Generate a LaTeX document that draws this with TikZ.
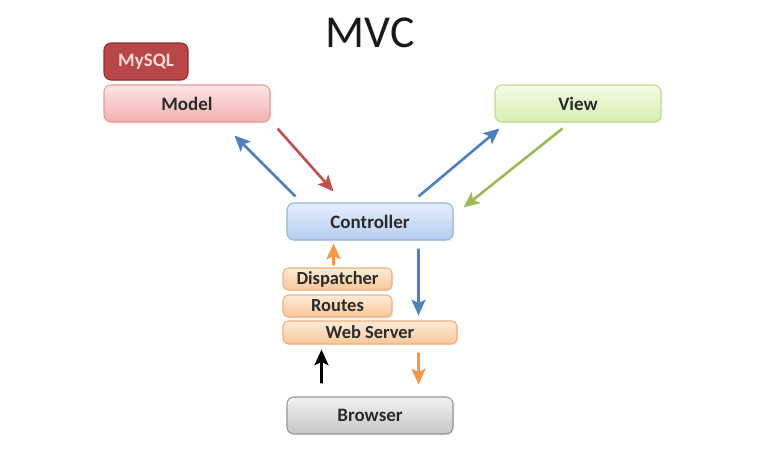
\documentclass[tikz,border=0pt]{standalone}
\usepackage{fontspec}
\setmainfont{Carlito}
\usetikzlibrary{calc,arrows.meta,shadows}
\definecolor{txtgrey}{HTML}{2B2B2B}
\definecolor{modeltop}{HTML}{FDE6E6}
\definecolor{modelbot}{HTML}{F3AFAF}
\definecolor{modelline}{HTML}{E59C9C}
\definecolor{viewtop}{HTML}{F5FBE8}
\definecolor{viewbot}{HTML}{D6EEAE}
\definecolor{viewline}{HTML}{BFD998}
\definecolor{ctrltop}{HTML}{E6EEFB}
\definecolor{ctrlbot}{HTML}{B5CDF1}
\definecolor{ctrlline}{HTML}{95B3DF}
\definecolor{srvtop}{HTML}{FDEBDA}
\definecolor{srvbot}{HTML}{F9C798}
\definecolor{srvline}{HTML}{EFB07A}
\definecolor{browtop}{HTML}{F2F2F2}
\definecolor{browbot}{HTML}{C6C6C6}
\definecolor{browline}{HTML}{959595}
\definecolor{sqlfill}{HTML}{BA4747}
\definecolor{sqlline}{HTML}{8E2F2F}
\definecolor{sqltext}{HTML}{F6DADA}
\definecolor{bluearr}{HTML}{4F81BD}
\definecolor{redarr}{HTML}{C0504D}
\definecolor{greenarr}{HTML}{9BBB59}
\definecolor{orangearr}{HTML}{F79646}
\tikzset{
	box/.style={draw, rounded corners=4pt, line width=0.6pt, inner sep=0pt,
		minimum width=3.32cm, minimum height=0.74cm, text=txtgrey,
		font=\fontsize{10.8}{13}\selectfont\bfseries,
		drop shadow={opacity=0.12, shadow xshift=0.8pt, shadow yshift=-0.8pt}},
	smallbox/.style={box, rounded corners=3pt, minimum width=2.18cm, minimum height=0.44cm,
		draw=srvline, top color=srvtop, bottom color=srvbot,
		font=\fontsize{10.5}{12}\selectfont\bfseries},
	arr/.style={-{Stealth[length=9pt,width=8pt,inset=2pt]}, line width=1.5pt}
}

\begin{document}
\begin{tikzpicture}[x=0.02cm, y=-0.02cm]
		%%%%% START %%%%%
		\useasboundingbox[fill=white] (0,0) rectangle (758,449);
		
		\node[text=black!90, font=\fontsize{26}{30}\selectfont] (title) at (370,33) {MVC};
		
		\node[box, minimum width=1.68cm, draw=sqlline, fill=sqlfill, text=sqltext] (mysql) at (146,61.5) {MySQL};
		\node[box, draw=modelline, top color=modeltop, bottom color=modelbot] (model) at (187,103.5) {Model};
		\node[box, draw=viewline, top color=viewtop, bottom color=viewbot] (view) at (578,103.5) {View};
		\node[box, draw=ctrlline, top color=ctrltop, bottom color=ctrlbot] (ctrl) at (370,221.5) {Controller};
		
		\node[smallbox] (disp) at (337.5,279) {Dispatcher};
		\node[smallbox] (routes) at (337.5,306) {Routes};
		\node[smallbox, minimum width=3.48cm, minimum height=0.46cm] (web) at (370,332.5) {Web Server};
		
		\node[box, draw=browline, top color=browtop, bottom color=browbot] (brow) at (370,415.5) {Browser};
		
		% model <-> controller
		\draw[arr, color=bluearr] ($(ctrl.north west)+(9,-6)$) -- ($(model.south east)+(-36,13)$);
		\draw[arr, color=redarr] ($(model.south east)+(7,6)$) -- ($(ctrl.north west)+(47,-11)$);
		
		% view <-> controller
		\draw[arr, color=bluearr] ($(ctrl.north east)+(-35,-6)$) -- ($(view.south west)+(5,6)$);
		\draw[arr, color=greenarr] ($(view.south west)+(68,6)$) -- ($(ctrl.north east)+(10,5)$);
		
		% server stack
		\draw[arr, color=orangearr] ($(disp.north west)+(51,-2)$) -- ($(ctrl.south west)+(47,3)$);
		\draw[arr, color=bluearr] ($(ctrl.south east)+(-35,8)$) -- ($(web.north east)+(-39,-5)$);
		
		% browser
		\draw[arr, color=black] ($(brow.north west)+(35,-13)$) -- ($(web.south west)+(39,5)$);
		\draw[arr, color=orangearr] ($(web.south east)+(-39,8)$) -- ($(brow.north east)+(-35,-12)$);
		
		%%%%% END %%%%%
	\end{tikzpicture}
\end{document}
